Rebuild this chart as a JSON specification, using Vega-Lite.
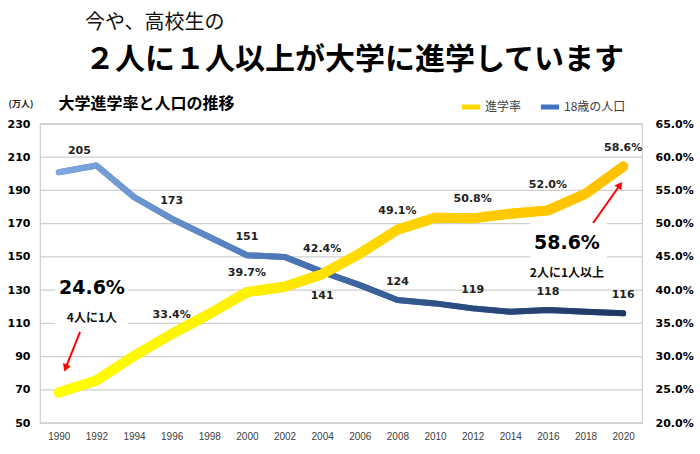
{
  "$schema": "https://vega.github.io/schema/vega-lite/v6.json",
  "width": 602,
  "height": 299,
  "autosize": {"type": "none"},
  "padding": {"left": 40, "top": 124, "right": 58, "bottom": 31},
  "background": "white",
  "title": {
    "text": "今や、高校生の",
    "subtitle": "２人に１人以上が大学に進学しています",
    "anchor": "start",
    "frame": "group",
    "dx": 45,
    "offset": 20,
    "font": "Noto Sans CJK JP",
    "fontSize": 20,
    "fontWeight": "normal",
    "color": "#111111",
    "subtitleFont": "Noto Sans CJK JP",
    "subtitleFontSize": 30,
    "subtitleFontWeight": "bold",
    "subtitleColor": "#000000",
    "subtitlePadding": 12
  },
  "datasets": {
    "main": [
      {"year": 1990, "pop": 201, "rate": 0.246},
      {"year": 1992, "pop": 205, "rate": 0.264},
      {"year": 1994, "pop": 186, "rate": 0.301},
      {"year": 1996, "pop": 173, "rate": 0.334},
      {"year": 1998, "pop": 162, "rate": 0.364},
      {"year": 2000, "pop": 151, "rate": 0.397},
      {"year": 2002, "pop": 150, "rate": 0.405},
      {"year": 2004, "pop": 141, "rate": 0.424},
      {"year": 2006, "pop": 133, "rate": 0.455},
      {"year": 2008, "pop": 124, "rate": 0.491},
      {"year": 2010, "pop": 122, "rate": 0.509},
      {"year": 2012, "pop": 119, "rate": 0.508},
      {"year": 2014, "pop": 117, "rate": 0.515},
      {"year": 2016, "pop": 118, "rate": 0.52},
      {"year": 2018, "pop": 117, "rate": 0.545},
      {"year": 2020, "pop": 116, "rate": 0.586}
    ],
    "gridvals": [
      {"v": 50}, {"v": 70}, {"v": 90}, {"v": 110}, {"v": 130},
      {"v": 150}, {"v": 170}, {"v": 190}, {"v": 210}, {"v": 230}
    ],
    "notes": [
      {"kind": "rate", "label": "24.6%", "year": 1991.76, "v": 131.3},
      {"kind": "caption", "label": "4人に1人", "year": 1991.76, "v": 113.2},
      {"kind": "rate", "label": "58.6%", "year": 2017.01, "v": 158.4},
      {"kind": "caption", "label": "2人に1人以上", "year": 2017.01, "v": 140.3}
    ],
    "boxes": [
      {"x0": 1989.8, "x1": 1993.68, "v0": 139.1, "v1": 103},
      {"x0": 2015.05, "x1": 2019.14, "v0": 172.2, "v1": 132.5}
    ],
    "arrows": [
      {"name": "left", "x0": 1991.13, "v0": 104.8, "x1": 1990.36, "v1": 83.1},
      {"name": "right", "x0": 2018.4, "v0": 170.4, "x1": 2019.83, "v1": 193.3}
    ]
  },
  "layer": [
    {
      "data": {"name": "gridvals"},
      "mark": {"type": "rule", "color": "#cfcfcf", "strokeWidth": 1.3},
      "encoding": {
        "y": {"field": "v", "type": "quantitative", "scale": {"domain": [50, 230], "nice": false, "zero": false},
              "axis": {"orient": "left", "values": [50, 70, 90, 110, 130, 150, 170, 190, 210, 230], "title": "(万人)", "grid": false}}
      }
    },
    {
      "data": {"name": "boxes"},
      "mark": {"type": "rect", "fill": "white"},
      "encoding": {
        "x": {"field": "x0", "type": "quantitative", "scale": {"domain": [1989, 2021], "nice": false, "zero": false},
              "axis": {"values": [1990, 1992, 1994, 1996, 1998, 2000, 2002, 2004, 2006, 2008, 2010, 2012, 2014, 2016, 2018, 2020], "format": "d", "title": "大学進学率と人口の推移", "grid": false}},
        "x2": {"field": "x1"},
        "y": {"field": "v0", "type": "quantitative", "scale": {"domain": [50, 230], "nice": false, "zero": false}, "axis": null},
        "y2": {"field": "v1"}
      }
    },
    {
      "data": {"name": "main"},
      "mark": {"type": "line", "strokeWidth": 6, "strokeCap": "round", "strokeJoin": "round"},
      "encoding": {
        "x": {"field": "year", "type": "quantitative",
              "axis": {"values": [1990, 1992, 1994, 1996, 1998, 2000, 2002, 2004, 2006, 2008, 2010, 2012, 2014, 2016, 2018, 2020], "format": "d", "title": "大学進学率と人口の推移", "grid": false}},
        "y": {"field": "pop", "type": "quantitative", "scale": {"domain": [50, 230], "nice": false, "zero": false}, "axis": null},
        "color": {
          "datum": "18歳の人口",
          "scale": {"domain": ["進学率", "18歳の人口"], "range": ["#FFD500", "#4472C4"]},
          "legend": {
            "orient": "none", "legendX": 419, "legendY": -29, "direction": "horizontal", "title": null,
            "symbolType": "stroke", "symbolSize": 330, "symbolStrokeWidth": 5,
            "labelFont": "Noto Sans CJK JP", "labelFontSize": 12, "labelColor": "#404040",
            "labelOffset": 2, "columnPadding": 8
          }
        }
      }
    },
    {
      "data": {"name": "main"},
      "mark": {
        "type": "line", "strokeWidth": 6, "strokeCap": "round", "strokeJoin": "round",
        "stroke": {
          "gradient": "linear", "x1": 0, "y1": 0, "x2": 1, "y2": 0,
          "stops": [
            {"offset": 0, "color": "#7EA8DE"},
            {"offset": 0.4, "color": "#4A76B6"},
            {"offset": 0.7, "color": "#2C4D80"},
            {"offset": 1, "color": "#1F3864"}
          ]
        }
      },
      "encoding": {
        "x": {"field": "year", "type": "quantitative",
              "axis": {"values": [1990, 1992, 1994, 1996, 1998, 2000, 2002, 2004, 2006, 2008, 2010, 2012, 2014, 2016, 2018, 2020], "format": "d", "title": "大学進学率と人口の推移", "grid": false}},
        "y": {"field": "pop", "type": "quantitative", "scale": {"domain": [50, 230], "nice": false, "zero": false}, "axis": null}
      }
    },
    {
      "data": {"name": "main"},
      "transform": [{"filter": {"field": "year", "oneOf": [1996, 2000, 2008, 2012, 2016, 2020]}}],
      "mark": {"type": "text", "dy": -18, "font": "DejaVu Sans", "fontSize": 11, "fontWeight": "bold", "color": "#222222"},
      "encoding": {
        "x": {"field": "year", "type": "quantitative",
              "axis": {"values": [1990, 1992, 1994, 1996, 1998, 2000, 2002, 2004, 2006, 2008, 2010, 2012, 2014, 2016, 2018, 2020], "format": "d", "title": "大学進学率と人口の推移", "grid": false}},
        "y": {"field": "pop", "type": "quantitative", "scale": {"domain": [50, 230], "nice": false, "zero": false}, "axis": null},
        "text": {"field": "pop", "type": "quantitative", "format": "d"}
      }
    },
    {
      "data": {"name": "main"},
      "transform": [{"filter": "datum.year == 1992"}],
      "mark": {"type": "text", "dy": -15, "dx": -17, "font": "DejaVu Sans", "fontSize": 11, "fontWeight": "bold", "color": "#222222"},
      "encoding": {
        "x": {"field": "year", "type": "quantitative",
              "axis": {"values": [1990, 1992, 1994, 1996, 1998, 2000, 2002, 2004, 2006, 2008, 2010, 2012, 2014, 2016, 2018, 2020], "format": "d", "title": "大学進学率と人口の推移", "grid": false}},
        "y": {"field": "pop", "type": "quantitative", "scale": {"domain": [50, 230], "nice": false, "zero": false}, "axis": null},
        "text": {"field": "pop", "type": "quantitative", "format": "d"}
      }
    },
    {
      "data": {"name": "main"},
      "transform": [{"filter": "datum.year == 2004"}],
      "mark": {"type": "text", "dy": 24, "font": "DejaVu Sans", "fontSize": 11, "fontWeight": "bold", "color": "#222222"},
      "encoding": {
        "x": {"field": "year", "type": "quantitative",
              "axis": {"values": [1990, 1992, 1994, 1996, 1998, 2000, 2002, 2004, 2006, 2008, 2010, 2012, 2014, 2016, 2018, 2020], "format": "d", "title": "大学進学率と人口の推移", "grid": false}},
        "y": {"field": "pop", "type": "quantitative", "scale": {"domain": [50, 230], "nice": false, "zero": false}, "axis": null},
        "text": {"field": "pop", "type": "quantitative", "format": "d"}
      }
    },
    {
      "data": {"name": "notes"},
      "transform": [{"filter": "datum.kind == 'rate'"}],
      "mark": {"type": "text", "font": "DejaVu Sans", "fontSize": 19, "fontWeight": "bold", "color": "#000000"},
      "encoding": {
        "x": {"field": "year", "type": "quantitative",
              "axis": {"values": [1990, 1992, 1994, 1996, 1998, 2000, 2002, 2004, 2006, 2008, 2010, 2012, 2014, 2016, 2018, 2020], "format": "d", "title": "大学進学率と人口の推移", "grid": false}},
        "y": {"field": "v", "type": "quantitative", "scale": {"domain": [50, 230], "nice": false, "zero": false}, "axis": null},
        "text": {"field": "label"}
      }
    },
    {
      "data": {"name": "notes"},
      "transform": [{"filter": "datum.kind == 'caption'"}],
      "mark": {"type": "text", "font": "Noto Sans CJK JP", "fontSize": 12, "fontWeight": "bold", "color": "#111111"},
      "encoding": {
        "x": {"field": "year", "type": "quantitative",
              "axis": {"values": [1990, 1992, 1994, 1996, 1998, 2000, 2002, 2004, 2006, 2008, 2010, 2012, 2014, 2016, 2018, 2020], "format": "d", "title": "大学進学率と人口の推移", "grid": false}},
        "y": {"field": "v", "type": "quantitative", "scale": {"domain": [50, 230], "nice": false, "zero": false}, "axis": null},
        "text": {"field": "label"}
      }
    },
    {
      "data": {"name": "arrows"},
      "mark": {"type": "rule", "color": "#FF0000", "strokeWidth": 2},
      "encoding": {
        "x": {"field": "x0", "type": "quantitative",
              "axis": {"values": [1990, 1992, 1994, 1996, 1998, 2000, 2002, 2004, 2006, 2008, 2010, 2012, 2014, 2016, 2018, 2020], "format": "d", "title": "大学進学率と人口の推移", "grid": false}},
        "y": {"field": "v0", "type": "quantitative", "scale": {"domain": [50, 230], "nice": false, "zero": false}, "axis": null},
        "x2": {"field": "x1"},
        "y2": {"field": "v1"}
      }
    },
    {
      "data": {"name": "arrows"},
      "transform": [{"filter": "datum.name == 'left'"}],
      "mark": {"type": "point", "shape": "triangle-up", "filled": true, "size": 70, "angle": 202, "color": "#FF0000", "opacity": 1},
      "encoding": {
        "x": {"field": "x1", "type": "quantitative",
              "axis": {"values": [1990, 1992, 1994, 1996, 1998, 2000, 2002, 2004, 2006, 2008, 2010, 2012, 2014, 2016, 2018, 2020], "format": "d", "title": "大学進学率と人口の推移", "grid": false}},
        "y": {"field": "v1", "type": "quantitative", "scale": {"domain": [50, 230], "nice": false, "zero": false}, "axis": null}
      }
    },
    {
      "data": {"name": "arrows"},
      "transform": [{"filter": "datum.name == 'right'"}],
      "mark": {"type": "point", "shape": "triangle-up", "filled": true, "size": 70, "angle": 35, "color": "#FF0000", "opacity": 1},
      "encoding": {
        "x": {"field": "x1", "type": "quantitative",
              "axis": {"values": [1990, 1992, 1994, 1996, 1998, 2000, 2002, 2004, 2006, 2008, 2010, 2012, 2014, 2016, 2018, 2020], "format": "d", "title": "大学進学率と人口の推移", "grid": false}},
        "y": {"field": "v1", "type": "quantitative", "scale": {"domain": [50, 230], "nice": false, "zero": false}, "axis": null}
      }
    },
    {
      "data": {"name": "main"},
      "mark": {"type": "line", "strokeWidth": 10, "strokeCap": "round", "strokeJoin": "round"},
      "encoding": {
        "x": {"field": "year", "type": "quantitative",
              "axis": {"values": [1990, 1992, 1994, 1996, 1998, 2000, 2002, 2004, 2006, 2008, 2010, 2012, 2014, 2016, 2018, 2020], "format": "d", "title": "大学進学率と人口の推移", "grid": false}},
        "y": {"field": "rate", "type": "quantitative", "scale": {"domain": [0.2, 0.65], "nice": false, "zero": false},
              "axis": {"orient": "right", "values": [0.2, 0.25, 0.3, 0.35, 0.4, 0.45, 0.5, 0.55, 0.6, 0.65], "format": ".1%", "title": null, "grid": false}},
        "color": {
          "datum": "進学率",
          "scale": {"domain": ["進学率", "18歳の人口"], "range": ["#FFD500", "#4472C4"]},
          "legend": {
            "orient": "none", "legendX": 419, "legendY": -29, "direction": "horizontal", "title": null,
            "symbolType": "stroke", "symbolSize": 330, "symbolStrokeWidth": 5,
            "labelFont": "Noto Sans CJK JP", "labelFontSize": 12, "labelColor": "#404040",
            "labelOffset": 2, "columnPadding": 8
          }
        }
      }
    },
    {
      "data": {"name": "main"},
      "mark": {
        "type": "line", "strokeWidth": 10, "strokeCap": "round", "strokeJoin": "round",
        "stroke": {
          "gradient": "linear", "x1": 0, "y1": 0, "x2": 1, "y2": 0,
          "stops": [
            {"offset": 0, "color": "#FFFF00"},
            {"offset": 0.35, "color": "#FFF000"},
            {"offset": 0.6, "color": "#FFD200"},
            {"offset": 1, "color": "#FFC000"}
          ]
        }
      },
      "encoding": {
        "x": {"field": "year", "type": "quantitative",
              "axis": {"values": [1990, 1992, 1994, 1996, 1998, 2000, 2002, 2004, 2006, 2008, 2010, 2012, 2014, 2016, 2018, 2020], "format": "d", "title": "大学進学率と人口の推移", "grid": false}},
        "y": {"field": "rate", "type": "quantitative", "scale": {"domain": [0.2, 0.65], "nice": false, "zero": false}, "axis": null}
      }
    },
    {
      "data": {"name": "main"},
      "transform": [{"filter": {"field": "year", "oneOf": [1996, 2000, 2008, 2012, 2020]}}],
      "mark": {"type": "text", "dy": -19, "font": "DejaVu Sans", "fontSize": 11, "fontWeight": "bold", "color": "#222222"},
      "encoding": {
        "x": {"field": "year", "type": "quantitative",
              "axis": {"values": [1990, 1992, 1994, 1996, 1998, 2000, 2002, 2004, 2006, 2008, 2010, 2012, 2014, 2016, 2018, 2020], "format": "d", "title": "大学進学率と人口の推移", "grid": false}},
        "y": {"field": "rate", "type": "quantitative", "scale": {"domain": [0.2, 0.65], "nice": false, "zero": false}, "axis": null},
        "text": {"field": "rate", "type": "quantitative", "format": ".1%"}
      }
    },
    {
      "data": {"name": "main"},
      "transform": [{"filter": {"field": "year", "oneOf": [2004, 2016]}}],
      "mark": {"type": "text", "dy": -25, "font": "DejaVu Sans", "fontSize": 11, "fontWeight": "bold", "color": "#222222"},
      "encoding": {
        "x": {"field": "year", "type": "quantitative",
              "axis": {"values": [1990, 1992, 1994, 1996, 1998, 2000, 2002, 2004, 2006, 2008, 2010, 2012, 2014, 2016, 2018, 2020], "format": "d", "title": "大学進学率と人口の推移", "grid": false}},
        "y": {"field": "rate", "type": "quantitative", "scale": {"domain": [0.2, 0.65], "nice": false, "zero": false}, "axis": null},
        "text": {"field": "rate", "type": "quantitative", "format": ".1%"}
      }
    }
  ],
  "resolve": {"scale": {"y": "independent"}, "axis": {"y": "independent"}},
  "config": {
    "view": {"stroke": "#cfcfcf", "strokeWidth": 1.2},
    "font": "DejaVu Sans",
    "axisX": {
      "ticks": false, "domain": false, "labelOverlap": false, "labelFlush": false,
      "labelFont": "Liberation Sans", "labelFontSize": 10, "labelColor": "#404040", "labelPadding": 8,
      "titleFont": "Noto Sans CJK JP", "titleFontSize": 16, "titleFontWeight": "bold", "titleColor": "#000000",
      "titleAlign": "left", "titleBaseline": "middle", "titleAngle": 0, "titleX": 18, "titleY": -320
    },
    "axisLeft": {
      "ticks": false, "domain": false, "labelOverlap": false, "labelFlush": false,
      "labelFont": "DejaVu Sans", "labelFontSize": 11, "labelFontWeight": "bold", "labelColor": "#000000", "labelPadding": 10,
      "titleFont": "Noto Sans CJK JP", "titleFontSize": 9, "titleFontWeight": "bold", "titleColor": "#222222",
      "titleAngle": 0, "titleAlign": "left", "titleBaseline": "middle", "titleX": -32, "titleY": -21
    },
    "axisRight": {
      "ticks": false, "domain": false, "labelOverlap": false, "labelFlush": false,
      "labelFont": "DejaVu Sans", "labelFontSize": 11, "labelFontWeight": "bold", "labelColor": "#000000", "labelPadding": 13
    }
  }
}
